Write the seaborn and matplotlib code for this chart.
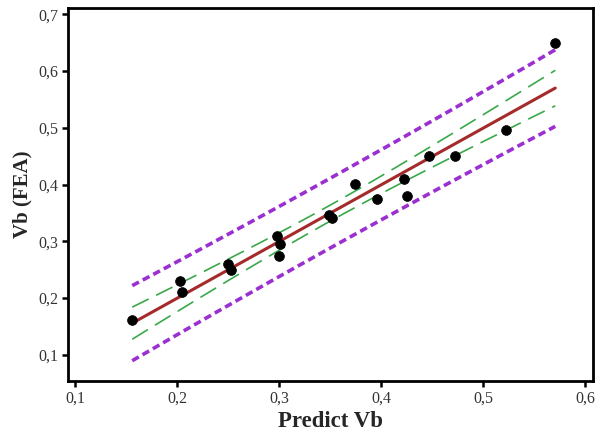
import numpy as np
import pandas as pd
import matplotlib
matplotlib.use("Agg")
import matplotlib.pyplot as plt
import seaborn as sns

predict_vb = [0.156, 0.203, 0.205, 0.250, 0.253, 0.298, 0.301, 0.300, 0.349, 0.352,
              0.375, 0.396, 0.423, 0.426, 0.447, 0.473, 0.523, 0.571]
vb_fea = [0.162, 0.230, 0.211, 0.260, 0.250, 0.309, 0.296, 0.274, 0.347, 0.341,
          0.401, 0.375, 0.410, 0.380, 0.450, 0.450, 0.496, 0.649]
x_ticks = [0.1, 0.2, 0.3, 0.4, 0.5, 0.6]
x_tick_labels = ["0,1", "0,2", "0,3", "0,4", "0,5", "0,6"]
y_ticks = [0.1, 0.2, 0.3, 0.4, 0.5, 0.6, 0.7]
y_tick_labels = ["0,1", "0,2", "0,3", "0,4", "0,5", "0,6", "0,7"]

sns.set_style("white")
plt.rcParams["font.family"] = ["Liberation Serif", "DejaVu Serif"]

x = np.array(predict_vb)
y = np.array(vb_fea)
n = len(x)
b1, b0 = np.polyfit(x, y, 1)
resid = y - (b0 + b1 * x)
s = np.sqrt(np.sum(resid ** 2) / (n - 2))
t = 2.131  # t(0.975, 16)
xg = np.linspace(x.min(), x.max(), 100)
yg = b0 + b1 * xg
sxx = np.sum((x - x.mean()) ** 2)
se_mean = s * np.sqrt(1 / n + (xg - x.mean()) ** 2 / sxx)
se_pred = s * np.sqrt(1 + 1 / n + (xg - x.mean()) ** 2 / sxx)
fit = pd.DataFrame({"x": xg, "fit": yg,
                    "ci_lo": yg - t * se_mean, "ci_hi": yg + t * se_mean,
                    "pi_lo": yg - t * se_pred, "pi_hi": yg + t * se_pred})
pts = pd.DataFrame({"Predict Vb": x, "Vb (FEA)": y})

fig = plt.figure(figsize=(5.95, 4.34), dpi=100)
ax = fig.add_axes([0.1143, 0.1221, 0.8823, 0.8595])

purple = "#9B30D0"
green = "#3AA84A"
red = "#A52A2A"
for col in ["pi_lo", "pi_hi"]:
    sns.lineplot(data=fit, x="x", y=col, ax=ax, color=purple, lw=2.6,
                 linestyle=(0, (2.1, 1.2)))
for col in ["ci_lo", "ci_hi"]:
    sns.lineplot(data=fit, x="x", y=col, ax=ax, color=green, lw=1.2,
                 linestyle=(0, (11, 5)))
sns.lineplot(data=fit, x="x", y="fit", ax=ax, color=red, lw=2.2)
sns.scatterplot(data=pts, x="Predict Vb", y="Vb (FEA)", ax=ax, color="black",
                s=50, edgecolor="black", linewidth=0.5, zorder=5)

ax.set_xlim(0.093, 0.608)
ax.set_ylim(0.054, 0.711)
ax.set_xticks(x_ticks)
ax.set_xticklabels(x_tick_labels)
ax.set_yticks(y_ticks)
ax.set_yticklabels(y_tick_labels)
ax.tick_params(axis="both", direction="out", length=4, width=1.8, labelsize=11.5,
               colors="black", bottom=True, left=True, pad=3)
for tl in ax.get_xticklabels() + ax.get_yticklabels():
    tl.set_color("#333333")
for sp in ax.spines.values():
    sp.set_linewidth(2)
    sp.set_color("black")
ax.set_xlabel("Predict Vb", fontsize=16.5, fontweight="bold", labelpad=3)
ax.set_ylabel("Vb (FEA)", fontsize=15, fontweight="bold", labelpad=4)

fig.savefig("out.png", dpi=100)
